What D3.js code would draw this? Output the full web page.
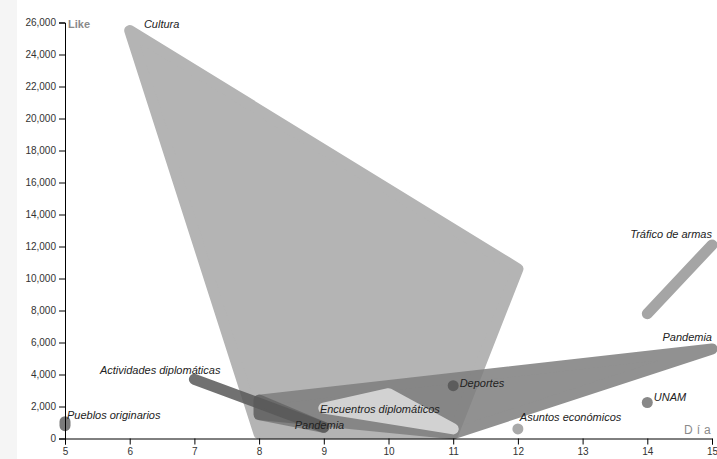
<!DOCTYPE html>
<html>
<head>
<meta charset="utf-8">
<script src="https://cdn.jsdelivr.net/npm/d3@7"></script>
<style>
  html, body { margin: 0; padding: 0; background: #fff; }
  svg { display: block; font-family: "Liberation Sans", Arial, sans-serif; }
  .tick text { font-size: 10px; fill: #333; }
</style>
</head>
<body>
<svg id="chart" width="717" height="459"></svg>
<script>
// ---- data ----
const topics = ["Cultura", "Pandemia", "Pandemia", "Actividades diplomáticas", "Encuentros diplomáticos",
                "Tráfico de armas", "Deportes", "UNAM", "Asuntos económicos", "Pueblos originarios"];
const topicDays = [
  [6, 12, 11, 8],
  [8, 15, 11, 8],
  [8, 8, 9],
  [7, 9],
  [9, 10, 11],
  [14, 15],
  [11],
  [14],
  [12],
  [5, 5]
];
const topicLikes = [
  [25500, 10600, 300, 300],
  [2400, 5600, 300, 1500],
  [2400, 1500, 700],
  [3700, 700],
  [1900, 2800, 600],
  [7800, 12100],
  [3300],
  [2250],
  [600],
  [800, 1050]
];
// label anchors in data units
const labelDay  = [6.22, 15, 8.55, 5.54, 8.94, 15, 11.1, 14.1, 12.03, 5.03];
const labelLike = [25660, 6090, 590, 4030, 1590, 12530, 3220, 2340, 1090, 1220];
const labelAnchor = ["start", "end", "start", "start", "start", "end", "start", "start", "start", "start"];
const xTicks = [5, 6, 7, 8, 9, 10, 11, 12, 13, 14, 15];
const yTicks = [0, 2000, 4000, 6000, 8000, 10000, 12000, 14000, 16000, 18000, 20000, 22000, 24000, 26000];

// ---- styles ----
const fills = ["#b4b4b4", "#7e7e7e", "#505050", "#585858", "#e0e0e0", "#a5a5a5", "#5c5c5c", "#888888", "#a9a9a9", "#7a7a7a"];
const opac  = [1, 0.85, 0.5, 0.85, 0.85, 1, 1, 1, 1, 1];

const svg = d3.select("#chart");
svg.append("rect").attr("x", 0).attr("y", 0).attr("width", 17).attr("height", 459).attr("fill", "#f5f5f5");

const x = d3.scaleLinear().domain([5, 15]).range([65, 712]);
const y = d3.scaleLinear().domain([0, 26000]).range([438.5, 22.5]);

const SW = 11;
const marks = svg.append("g");
topics.forEach((t, i) => {
  const pts = topicDays[i].map((d, j) => [x(d), y(topicLikes[i][j])]);
  let shape;
  if (pts.length === 1) {
    shape = marks.append("circle").attr("cx", pts[0][0]).attr("cy", pts[0][1]).attr("r", SW / 2)
      .attr("fill", fills[i]);
  } else if (pts.length === 2) {
    shape = marks.append("path").attr("d", d3.line()(pts))
      .attr("fill", "none").attr("stroke", fills[i]).attr("stroke-width", SW)
      .attr("stroke-linecap", "round");
  } else {
    const hull = d3.polygonHull(pts);
    shape = marks.append("path").attr("d", "M" + hull.join("L") + "Z")
      .attr("fill", fills[i]).attr("stroke", fills[i]).attr("stroke-width", SW)
      .attr("stroke-linejoin", "round");
  }
  shape.attr("opacity", opac[i]);
});

// axes
const gx = svg.append("g").attr("transform", `translate(0,${y(0)})`)
  .call(d3.axisBottom(x).tickValues(xTicks).tickFormat(d3.format("d")));
const gy = svg.append("g").attr("transform", `translate(${x(5)},0)`)
  .call(d3.axisLeft(y).tickValues(yTicks).tickFormat(d3.format(",")));
gx.selectAll(".tick text").attr("font-family", "Liberation Sans, Arial, sans-serif");
gy.selectAll(".tick text").attr("font-family", "Liberation Sans, Arial, sans-serif");

svg.append("text").attr("x", x(5) + 3).attr("y", y(26000) + 5.5)
  .attr("font-size", 11).attr("font-weight", "bold").attr("fill", "#8a8a8a").text("Like");
svg.append("text").attr("x", 684).attr("y", 434)
  .attr("font-size", 12).attr("letter-spacing", 4).attr("fill", "#8a8a8a").text("Día");

// labels
const labels = svg.append("g");
topics.forEach((t, i) => {
  labels.append("text").attr("x", x(labelDay[i])).attr("y", y(labelLike[i]))
    .attr("text-anchor", labelAnchor[i]).attr("font-size", 11).attr("font-style", "italic")
    .attr("fill", "#222").text(t);
});
</script>
</body>
</html>
